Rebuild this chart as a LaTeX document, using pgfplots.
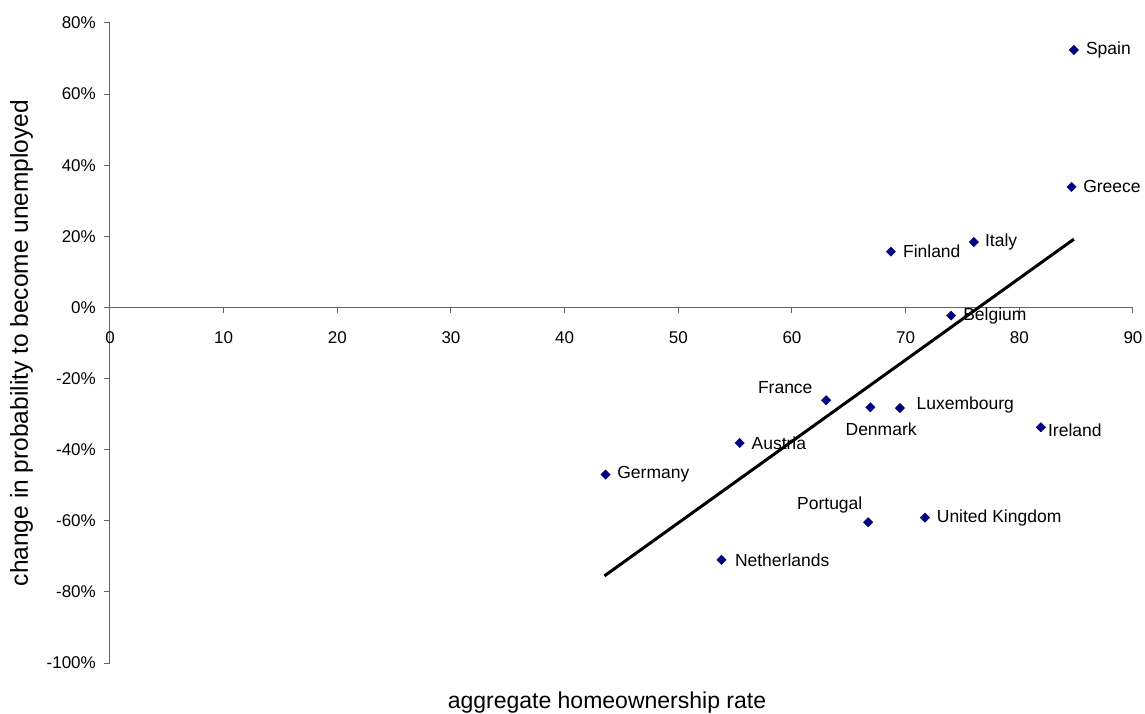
\documentclass[border=0pt]{standalone}
\usepackage{fontspec}
\setmainfont{Liberation Sans}
\usepackage{pgfplots}
\pgfplotsset{compat=1.18}
\definecolor{navy}{RGB}{0,0,128}
\definecolor{axgray}{RGB}{100,100,100}

\begin{document}
\begin{tikzpicture}
\begin{axis}[
  scale only axis,
  width=1023pt, height=640pt,
  xmin=0, xmax=90, ymin=-100, ymax=80,
  enlargelimits=false,
  clip=false,
  axis y line=left,
  axis x line=middle,
  axis line style={axgray, line width=1pt, -},
  hide obscured x ticks=false,
  hide obscured y ticks=false,
  xtick={0,10,...,90},
  ytick={-100,-80,...,80},
  tick align=outside,
  major tick length=6pt,
  tick style={axgray, line width=1pt},
  minor tick num=0,
  /pgf/number format/assume math mode=true,
  yticklabel={\pgfmathprintnumber{\tick}\%},
  ticklabel style={font=\fontsize{17}{20}\selectfont, text=black},
  xticklabel style={inner sep=0pt, anchor=north, yshift=-18pt},
  yticklabel style={inner sep=0pt, anchor=east, xshift=-8pt},
  xlabel={aggregate homeownership rate},
  ylabel={change in probability to become unemployed},
  every axis x label/.style={at={(axis description cs:0.4858,0)}, anchor=base, yshift=-45pt, font=\fontsize{23}{27}\selectfont},
  every axis y label/.style={at={(axis description cs:0,0.5)}, rotate=90, anchor=base, yshift=82pt, font=\fontsize{24.5}{29}\selectfont},
]
\addplot[black, line width=3pt] coordinates {(43.5,-75.5) (84.8,19.2)};
\addplot[
  only marks,
  mark=square*,
  mark size=3.3pt,
  mark options={rotate=45, fill=navy, draw=navy},
  nodes near coords,
  point meta=explicit symbolic,
  visualization depends on={value \thisrow{anc}\as\myanc},
  visualization depends on={value \thisrow{dx}\as\mydx},
  visualization depends on={value \thisrow{dy}\as\mydy},
  every node near coord/.append style={anchor=\myanc, xshift=\mydx pt, yshift=\mydy pt, inner sep=0pt, font=\fontsize{17.5}{21}\selectfont, text=black},
] table[col sep=comma, row sep=\\, x=x, y=y, meta=label] {
x,y,label,anc,dx,dy\\
84.8,72.4,Spain,west,12,0\\
84.6,33.9,Greece,west,11.5,0\\
76.0,18.4,Italy,west,11,0\\
68.7,15.7,Finland,west,12,0\\
74.0,-2.3,Belgium,west,12,0\\
66.9,-28.1,Denmark,center,10.7,-22.3\\
69.5,-28.3,Luxembourg,west,16.5,3\\
81.9,-33.7,Ireland,west,7,-3\\
63.0,-26.1,France,east,-13.4,12.4\\
55.4,-38.1,Austria,west,11.7,0\\
43.6,-47.0,Germany,west,11.6,0\\
66.7,-60.4,Portugal,east,-5.6,17.3\\
71.7,-59.1,United Kingdom,west,11.7,0\\
53.8,-71.0,Netherlands,west,13.3,0\\
};
\end{axis}
\pgfresetboundingbox
\path (current axis.south west) ++(-110pt,-50pt) rectangle ++(1145pt,713pt);
\end{tikzpicture}
\end{document}
